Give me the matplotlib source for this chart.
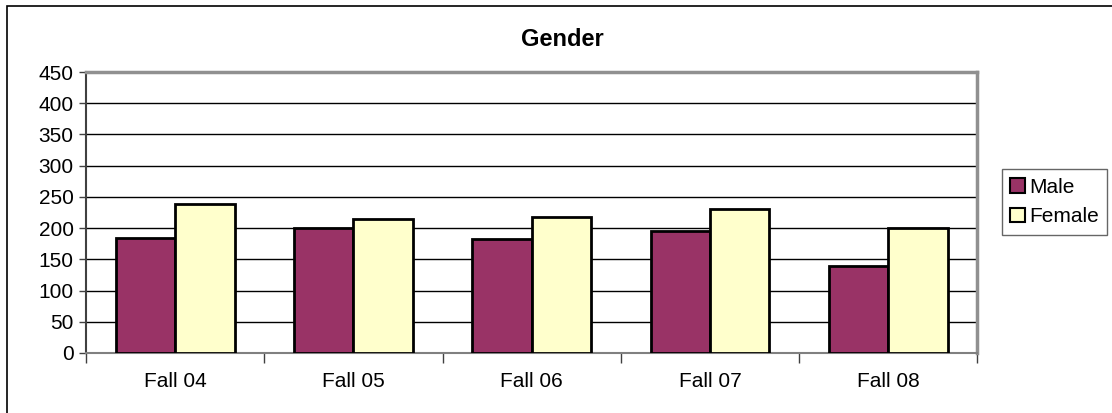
import numpy as np
import matplotlib.pyplot as plt
from matplotlib.patches import Rectangle

categories = ['Fall 04', 'Fall 05', 'Fall 06', 'Fall 07', 'Fall 08']
male = [184, 200, 182, 196, 140]
female = [239, 215, 218, 231, 200]
series_names = ['Male', 'Female']
yticks = list(range(0, 451, 50))

plt.rcParams['font.family'] = ['Liberation Sans', 'DejaVu Sans']

W, H = 1112, 413
fig = plt.figure(figsize=(W / 100, H / 100), dpi=100)
ax = fig.add_axes([86 / W, 1 - 353 / H, (977.5 - 86) / W, (353 - 72) / H])

# outer chart border (only top and left are inside the image)
fig.patches.append(Rectangle((7 / W, -0.1), 1.2, 1 - 6 / H + 0.1,
                             transform=fig.transFigure, fill=False,
                             edgecolor='black', linewidth=1.2))

x = np.arange(len(categories))
w = 1 / 3
ax.bar(x - w / 2, male, w, color='#993366', edgecolor='black', linewidth=2,
       label=series_names[0], zorder=3)
ax.bar(x + w / 2, female, w, color='#FFFFCC', edgecolor='black', linewidth=2,
       label=series_names[1], zorder=3)

ax.set_xlim(-0.5, len(categories) - 0.5)
ax.set_ylim(0, 450)
ax.set_yticks(yticks)
ax.yaxis.grid(True, color='black', linewidth=1)
ax.set_axisbelow(True)
ax.tick_params(axis='y', labelsize=15, length=5, width=1, color='#404040', pad=4)

# category labels in the middle, tick marks on the boundaries
ax.set_xticks(np.arange(len(categories) + 1) - 0.5)
ax.set_xticklabels([])
ax.set_xticks(x, minor=True)
ax.set_xticklabels(categories, minor=True, fontsize=15)
ax.tick_params(axis='x', which='major', length=7, width=1, color='#404040')
ax.tick_params(axis='x', which='minor', length=0, pad=14)

ax.spines['left'].set_color('#404040')
ax.spines['left'].set_linewidth(1.5)
ax.spines['bottom'].set_color('#808080')
ax.spines['bottom'].set_linewidth(1.5)
ax.spines['top'].set_color('#909090')
ax.spines['top'].set_linewidth(2.5)
ax.spines['right'].set_color('#909090')
ax.spines['right'].set_linewidth(2.5)

fig.text(562 / W, 1 - 40 / H, 'Gender', ha='center', va='center',
         fontsize=17, fontweight='bold')

leg = fig.legend(loc='center left', bbox_to_anchor=(1002 / W, 1 - 202 / H),
                 fontsize=15, frameon=True, fancybox=False, handlelength=0.7,
                 handleheight=0.7, handletextpad=0.2, borderpad=0.4,
                 labelspacing=0.5, borderaxespad=0)
leg.get_frame().set_edgecolor('#404040')
leg.get_frame().set_linewidth(1)
for h in leg.legend_handles:
    h.set_linewidth(1.5)

fig.savefig('out.png', dpi=100)
